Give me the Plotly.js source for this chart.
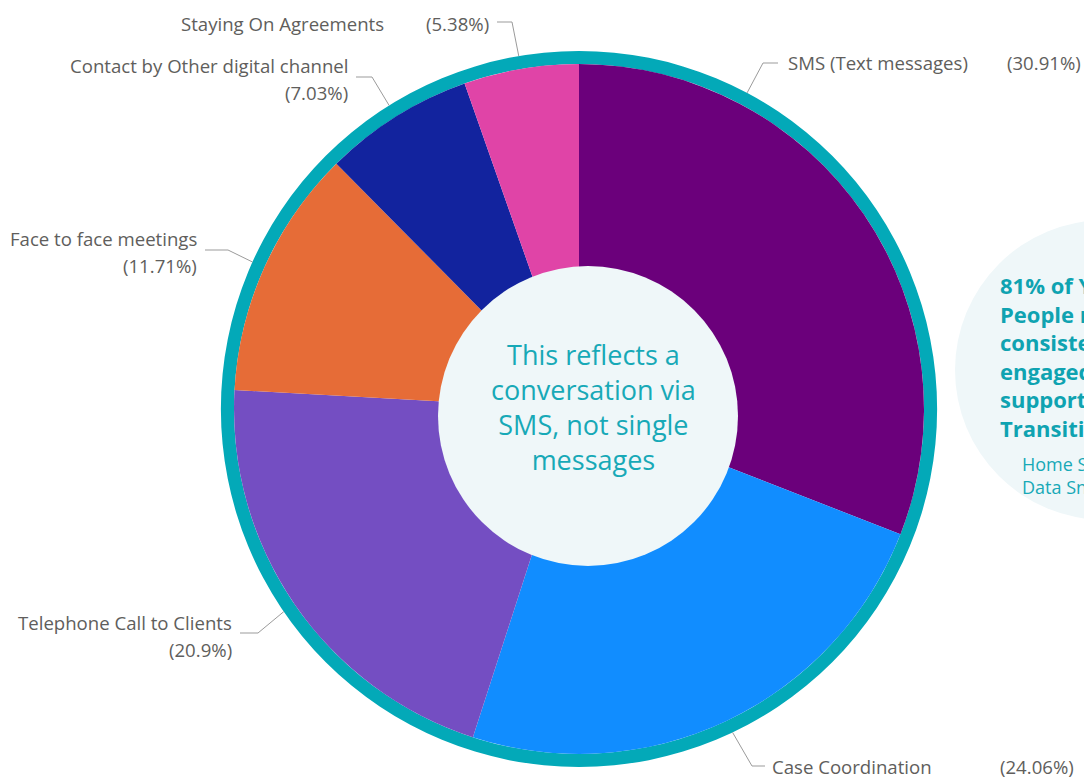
<!DOCTYPE html>
<html>
<head>
<meta charset="utf-8">
<script src="https://cdn.plot.ly/plotly-3.0.1.min.js"></script>
<style>html,body{margin:0;padding:0;background:#fff;overflow:hidden}#chart{width:1084px;height:778px}</style>
</head>
<body>
<div id="chart"></div>
<script>
// ---- data ----
const categories = ["SMS (Text messages)", "Case Coordination", "Telephone Call to Clients", "Face to face meetings", "Contact by Other digital channel", "Staying On Agreements"];
const shares = [30.91, 24.06, 20.9, 11.71, 7.03, 5.38];
const sliceColors = ["#6B007B", "#118DFF", "#744EC2", "#E66C37", "#12239E", "#E044A7"];
const centerLines = ["This reflects a", "conversation via", "SMS, not single", "messages"];
const sideLines = ["81% of Young", "People remained", "consistently", "engaged with", "support during", "Transition"];
const sideSource = ["Home Stretch", "Data Snapshot"];

// ---- layout helpers (pixels -> paper) ----
const W = 1084, H = 778;
const CX = 579, CY = 409, R = 345, RING = 358;
const px = x => x / W, py = y => 1 - y / H;

// label placement (layout only)
const labelPos = [
  {angle: 28, elbow: [763, 63], end: [778, 63], name: [786, 63, 'left'], pct: [1083, 63, 'right']},
  {elbow: [752, 766], end: [765, 766], name: [770, 766, 'left'], pct: [1076, 766, 'right']},
  {elbow: [258, 633], end: [240, 633], name: [234, 622, 'right'], pct: [234, 649, 'right']},
  {elbow: [228, 250], end: [205, 250], name: [199, 238, 'right'], pct: [199, 265, 'right']},
  {elbow: [372, 77], end: [356, 77], name: [350, 65, 'right'], pct: [350, 92, 'right']},
  {elbow: [512, 22], end: [497, 22], name: [386, 24, 'right'], pct: [491, 24, 'right']}
];

const total = shares.reduce((a, b) => a + b, 0);
let cum = 0;
const shapes = [];
const annotations = [];
const labelFont = {family: "Open Sans, sans-serif", size: 18.6, color: "#605E5C"};

shares.forEach((v, i) => {
  const mid = (cum + v / 2) / total * 360;
  cum += v;
  const lp = labelPos[i];
  const a = (lp.angle !== undefined ? lp.angle : mid) * Math.PI / 180;
  const sx = CX + RING * Math.sin(a), sy = CY - RING * Math.cos(a);
  shapes.push({
    type: 'path', xref: 'paper', yref: 'paper', layer: 'above',
    path: `M ${px(sx)},${py(sy)} L ${px(lp.elbow[0])},${py(lp.elbow[1])} L ${px(lp.end[0])},${py(lp.end[1])}`,
    line: {color: '#9B9B9B', width: 1}
  });
  annotations.push({xref: 'paper', yref: 'paper', x: px(lp.name[0]), y: py(lp.name[1]), xanchor: lp.name[2], yanchor: 'middle',
    text: categories[i], showarrow: false, font: labelFont});
  annotations.push({xref: 'paper', yref: 'paper', x: px(lp.pct[0]), y: py(lp.pct[1]), xanchor: lp.pct[2], yanchor: 'middle',
    text: '(' + v + '%)', showarrow: false, font: labelFont});
});

// center circle
shapes.push({type: 'circle', xref: 'paper', yref: 'paper', layer: 'above',
  x0: px(588 - 150), x1: px(588 + 150), y0: py(416 + 150), y1: py(416 - 150),
  fillcolor: '#EFF7F9', line: {width: 0}});
// side circle
shapes.push({type: 'circle', xref: 'paper', yref: 'paper', layer: 'below',
  x0: px(1105 - 150), x1: px(1105 + 150), y0: py(370 + 150), y1: py(370 - 150),
  fillcolor: '#EFF7F9', line: {width: 0}});

annotations.push({xref: 'paper', yref: 'paper', x: px(593), y: py(407), xanchor: 'center', yanchor: 'middle',
  text: centerLines.join('<br>'), showarrow: false, align: 'center',
  font: {family: "Open Sans, sans-serif", size: 27, color: '#17A9B7'}});
annotations.push({xref: 'paper', yref: 'paper', x: px(998), y: py(356), xanchor: 'left', yanchor: 'middle',
  text: '<b>' + sideLines.join('<br>') + '</b>', showarrow: false, align: 'left',
  font: {family: "Open Sans, sans-serif", size: 22, color: '#0FA3B1'}});
annotations.push({xref: 'paper', yref: 'paper', x: px(1020), y: py(475), xanchor: 'left', yanchor: 'middle',
  text: sideSource.join('<br>'), showarrow: false, align: 'left',
  font: {family: "Open Sans, sans-serif", size: 18, color: '#17A9B7'}});

const ringTrace = {
  type: 'pie', values: [1], labels: ['ring'], marker: {colors: ['#03A9B8'], line: {width: 0}},
  hole: R / RING, sort: false, textinfo: 'none', hoverinfo: 'skip', showlegend: false,
  domain: {x: [px(CX - RING), px(CX + RING)], y: [py(CY + RING), py(CY - RING)]}
};
const dataTrace = {
  type: 'pie', values: shares, labels: categories, marker: {colors: sliceColors, line: {width: 0}},
  sort: false, direction: 'clockwise', rotation: 0, textinfo: 'none', hoverinfo: 'label+percent', showlegend: false,
  domain: {x: [px(CX - R), px(CX + R)], y: [py(CY + R), py(CY - R)]}
};

Plotly.newPlot('chart', [ringTrace, dataTrace], {
  width: W, height: H, margin: {l: 0, r: 0, t: 0, b: 0},
  paper_bgcolor: '#ffffff', showlegend: false,
  shapes: shapes, annotations: annotations
}, {displayModeBar: false, staticPlot: true});
</script>
</body>
</html>
